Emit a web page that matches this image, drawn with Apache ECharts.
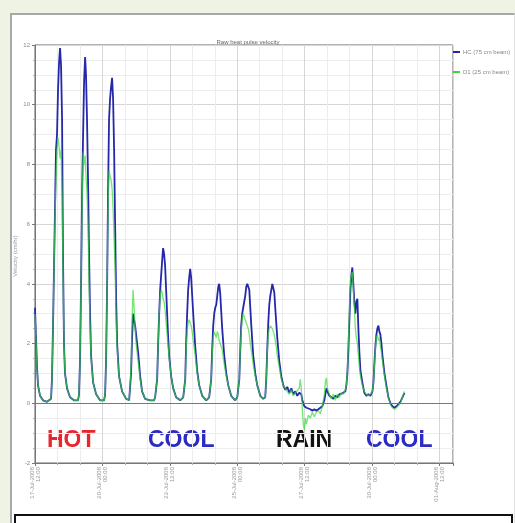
<!DOCTYPE html>
<html>
<head>
<meta charset="utf-8">
<script src="https://cdn.jsdelivr.net/npm/echarts@6/dist/echarts.min.js"></script>
<style>
  body { margin: 0; background: #eef3e3; }
  .panel { position: absolute; left: 10px; top: 13px; width: 502px; height: 515px;
           background: #fff; border-left: 2px solid #a8a8a8; border-top: 2px solid #a8a8a8;
           border-right: 1px solid #e2e2e2; }
  .caption { position: absolute; left: 14px; top: 514px; width: 495px; height: 20px;
             background: #fff; border: 2px solid #111; }
  #chart { position: absolute; left: 0; top: 0; width: 515px; height: 523px; }
</style>
</head>
<body>
<div class="panel"></div>
<div class="caption"></div>
<div id="chart"></div>
<script>
  // time in hours since the first sample
  var hours = [0,0.9,1.8,2.7,4.5,7.1,10.7,14.3,15.1,16.0,16.9,17.8,18.7,19.6,20.5,21.4,22.3,23.2,24.1,24.9,25.8,26.7,28.5,31.2,34.7,38.3,
    39.2,40.1,41.0,41.9,42.8,43.7,44.6,45.4,46.3,47.2,48.1,49.0,49.9,51.7,54.4,57.9,61.5,
    62.4,63.3,64.2,65.0,65.9,66.8,67.7,68.6,69.5,70.4,71.3,72.2,73.1,74.8,77.5,81.1,83.8,
    84.6,85.5,86.4,87.3,88.2,89.1,90.0,91.8,93.6,95.3,98.0,102.5,106.0,
    106.9,108.7,109.6,110.5,111.4,112.3,113.2,114.0,114.9,115.8,116.7,117.6,118.5,119.4,121.2,123.0,125.6,129.2,
    131.9,133.7,134.5,135.4,136.3,137.2,138.1,139.0,139.9,140.8,142.6,144.3,146.1,148.8,152.4,
    155.0,156.8,157.7,158.6,159.5,160.4,161.3,162.2,163.1,163.9,164.8,165.7,166.6,168.4,170.2,172.0,174.6,178.2,
    180.0,181.8,182.7,183.5,184.4,185.3,186.2,187.1,188.0,188.9,189.8,190.7,191.6,192.5,194.2,196.0,197.8,200.5,203.1,
    204.9,205.8,206.7,207.6,208.5,209.4,210.3,211.2,212.1,213.0,213.8,214.7,215.6,
    217.4,219.2,221.0,222.8,224.5,226.3,228.1,229.9,231.7,233.4,235.2,
    236.1,237.0,237.9,238.8,239.7,240.6,241.5,
    243.2,245.0,246.8,248.6,250.4,252.2,253.9,255.7,257.5,
    258.4,259.3,260.2,
    262.0,263.7,265.5,267.3,269.1,270.9,272.6,274.4,276.2,
    277.1,278.0,278.9,279.8,280.7,281.6,282.4,283.3,284.2,285.1,286.0,286.9,287.8,288.7,289.6,
    291.3,293.1,294.9,296.7,298.5,300.3,
    301.2,302.0,302.9,303.8,304.7,305.6,306.5,307.4,308.3,309.2,
    311.0,312.7,314.5,316.3,318.1,319.9,321.7,323.4,325.2,327.0,328.8];

  // HC probe (blue)
  var hcVel = [3.2,2.2,1.2,0.6,0.25,0.1,0.05,0.15,0.8,2.5,4.5,6.5,8.5,9.0,10.5,11.4,11.9,11.3,9.5,5.0,2.0,1.0,0.5,0.2,0.1,0.1,
    0.3,1.5,4.0,7.0,9.0,10.8,11.6,11.0,9.5,7.5,5.0,3.0,1.6,0.7,0.3,0.1,0.1,
    0.3,1.5,4.0,7.0,9.5,10.2,10.6,10.9,10.2,8.5,6.0,3.5,2.0,0.9,0.4,0.15,0.1,
    0.15,1.0,2.2,3.0,2.8,2.6,2.3,1.7,0.9,0.4,0.15,0.1,0.1,
    0.2,0.8,2.0,3.0,3.8,4.3,4.8,5.2,5.0,4.6,3.8,3.0,2.2,1.6,0.9,0.5,0.2,0.1,
    0.2,0.8,2.0,3.0,3.8,4.2,4.5,4.2,3.6,3.0,1.9,1.1,0.6,0.25,0.1,
    0.2,0.8,1.8,2.6,3.0,3.2,3.3,3.6,3.9,4.0,3.7,3.1,2.5,1.6,1.0,0.6,0.25,0.1,
    0.2,0.8,1.8,2.6,3.0,3.2,3.4,3.6,3.9,4.0,4.05,3.8,3.2,2.6,1.6,1.0,0.6,0.25,0.15,
    0.2,0.8,1.8,2.7,3.3,3.6,3.8,4.0,4.05,3.7,3.2,2.7,2.2,
    1.4,0.9,0.6,0.45,0.55,0.35,0.5,0.3,0.4,0.25,0.35,
    0.4,0.3,0.1,0.0,-0.1,-0.05,-0.15,
    -0.2,-0.2,-0.25,-0.2,-0.25,-0.2,-0.15,-0.1,0.1,
    0.3,0.5,0.4,
    0.25,0.3,0.15,0.25,0.2,0.3,0.25,0.35,0.4,
    0.6,1.0,1.8,2.8,3.8,4.3,4.55,4.0,3.4,3.0,3.4,3.5,2.5,1.7,1.1,
    0.7,0.35,0.25,0.3,0.25,0.4,
    0.7,1.3,1.9,2.3,2.5,2.6,2.4,2.3,2.0,1.6,
    1.0,0.6,0.2,0.0,-0.1,-0.15,-0.1,-0.05,0.05,0.2,0.35];

  // D1 probe (green)
  var d1Vel = [3.0,2.1,1.1,0.6,0.25,0.1,0.05,0.15,0.8,2.5,4.5,6.2,7.5,8.5,8.9,8.6,8.2,8.5,7.0,4.5,2.0,1.0,0.5,0.2,0.1,0.1,
    0.3,1.5,4.0,6.5,8.4,8.0,8.3,7.6,7.0,6.0,4.0,2.6,1.5,0.7,0.3,0.1,0.1,
    0.3,1.5,4.0,6.5,7.8,7.6,7.5,7.2,6.5,5.5,4.5,2.8,1.8,0.9,0.4,0.15,0.1,
    0.15,1.2,2.8,3.8,3.2,2.5,2.0,1.4,0.8,0.4,0.15,0.1,0.1,
    0.2,0.8,2.0,3.0,3.6,3.8,3.7,3.5,3.4,3.1,2.7,2.3,1.9,1.5,0.9,0.5,0.2,0.1,
    0.2,0.8,1.8,2.4,2.7,2.8,2.7,2.6,2.4,2.1,1.6,1.0,0.6,0.25,0.1,
    0.2,0.8,1.6,2.2,2.4,2.3,2.2,2.4,2.3,2.1,2.0,1.9,1.8,1.3,0.9,0.6,0.25,0.1,
    0.2,0.8,1.8,2.4,2.8,3.0,2.9,2.8,2.7,2.6,2.5,2.3,2.0,1.8,1.3,0.9,0.6,0.25,0.15,
    0.2,0.8,1.7,2.3,2.5,2.6,2.6,2.5,2.4,2.3,2.1,1.9,1.6,
    1.2,0.8,0.6,0.5,0.4,0.3,0.45,0.25,0.35,0.3,0.5,
    0.8,0.5,-0.2,-0.7,-0.9,-0.5,-0.7,
    -0.4,-0.5,-0.3,-0.45,-0.3,-0.25,-0.35,-0.1,0.3,
    0.7,0.85,0.5,
    0.3,0.15,0.3,0.1,0.3,0.2,0.35,0.3,0.45,
    0.6,1.1,2.0,3.2,4.1,4.3,4.4,3.8,3.2,2.5,2.2,2.0,1.6,1.2,0.9,
    0.6,0.4,0.3,0.25,0.3,0.4,
    0.7,1.2,1.8,2.2,2.3,2.1,2.2,1.9,1.7,1.4,
    0.9,0.5,0.2,-0.05,-0.15,-0.2,-0.15,-0.1,0.0,0.2,0.4];

  var tickLabels = ['17-Jul-2008\n12:00', '20-Jul-2008\n00:00', '22-Jul-2008\n12:00', '25-Jul-2008\n00:00',
                    '27-Jul-2008\n12:00', '30-Jul-2008\n00:00', '01-Aug-2008\n12:00'];
  var seriesNames = ['HC (75 cm beam)', 'D1 (25 cm beam)'];

  var myChart = echarts.init(document.getElementById('chart'));
  myChart.setOption({
    animation: false,
    textStyle: { fontFamily: 'Liberation Sans' },
    title: {
      text: 'Raw heat pulse velocity',
      left: 243, top: 34, textAlign: 'center',
      textStyle: { fontSize: 6, fontWeight: 'normal', color: '#666' }
    },
    legend: {
      orient: 'vertical', left: 453, top: 49, padding: 0,
      icon: 'rect', itemWidth: 7, itemHeight: 2, itemGap: 14,
      textStyle: { fontSize: 6, color: '#888', padding: [0, 0, 0, -2] },
      data: seriesNames
    },
    grid: {
      left: 35, right: 62, top: 45, bottom: 60,
      show: true, borderColor: '#666', borderWidth: 1
    },
    xAxis: {
      type: 'value', min: 0, max: 372, interval: 60,
      axisLine: { onZero: false, lineStyle: { color: '#777' } },
      axisTick: { length: 3, lineStyle: { color: '#777' } },
      minorTick: { show: true, splitNumber: 3, length: 2, lineStyle: { color: '#aaa' } },
      axisLabel: {
        rotate: 90, fontSize: 6, color: '#999', lineHeight: 6, margin: 4,
        formatter: function (v) { return v % 60 === 0 ? tickLabels[v / 60] : ''; }
      },
      splitLine: { lineStyle: { color: '#d6d6d6' } },
      minorSplitLine: { show: true, lineStyle: { color: '#ececec' } }
    },
    yAxis: {
      type: 'value', min: -2, max: 12, interval: 2,
      axisLine: { lineStyle: { color: '#777' } },
      axisTick: { show: true, length: 3, lineStyle: { color: '#777' } },
      minorTick: { show: true, splitNumber: 4, length: 2, lineStyle: { color: '#aaa' } },
      axisLabel: { fontSize: 6, color: '#888', margin: 5 },
      splitLine: { lineStyle: { color: '#d6d6d6' } },
      minorSplitLine: { show: true, lineStyle: { color: '#ededed' } }
    },
    graphic: [
      // y axis title
      { type: 'text', x: 15, y: 256, rotation: Math.PI / 2,
        style: { text: 'Velocity (cm/hr)', fill: '#999', font: '6px "Liberation Sans"', align: 'center', verticalAlign: 'middle' } },
      { type: 'text', left: 47, top: 429, style: { text: 'HOT', fill: '#e8262f', font: 'bold 23px "Liberation Sans"' } },
      { type: 'text', left: 148, top: 429, style: { text: 'COOL', fill: '#2b2bc4', font: 'bold 23px "Liberation Sans"' } },
      { type: 'text', left: 276, top: 429, style: { text: 'RAIN', fill: '#111', font: 'bold 23px "Liberation Sans"' } },
      { type: 'text', left: 366, top: 429, style: { text: 'COOL', fill: '#2b2bc4', font: 'bold 23px "Liberation Sans"' } }
    ],
    series: [
      {
        name: seriesNames[0], type: 'line', symbol: 'none',
        data: hours.map(function (h, i) { return [h, hcVel[i]]; }),
        lineStyle: { color: '#2528a8', width: 1.8 },
        itemStyle: { color: '#2528a8' },
        markLine: {
          silent: true, symbol: 'none', label: { show: false },
          lineStyle: { color: '#777', type: 'solid', width: 1 },
          data: [{ yAxis: 0 }]
        },
        z: 2
      },
      {
        name: seriesNames[1], type: 'line', symbol: 'none',
        data: hours.map(function (h, i) { return [h, d1Vel[i]]; }),
        lineStyle: { color: '#35dc35', width: 1.3, opacity: 0.7 },
        itemStyle: { color: '#35dc35' },
        z: 3
      }
    ]
  });
</script>
</body>
</html>
